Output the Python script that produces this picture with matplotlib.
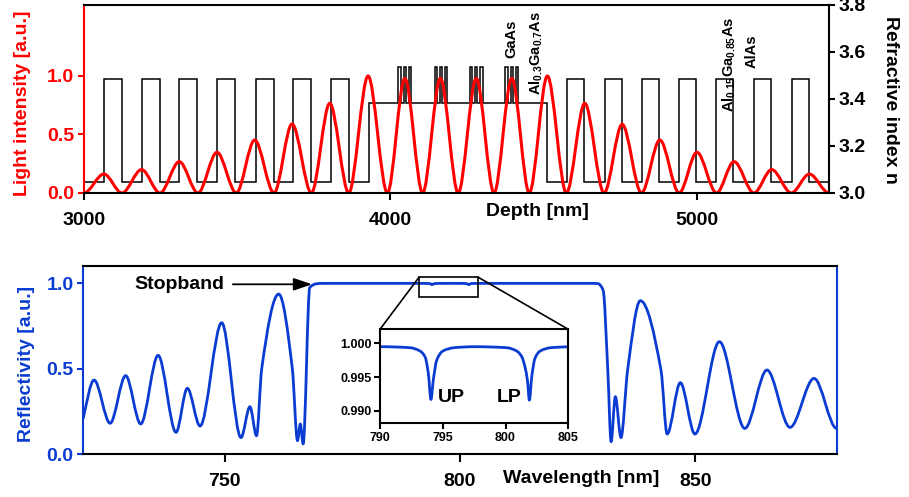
import numpy as np
import matplotlib
matplotlib.use("Agg")
import matplotlib.pyplot as plt
from matplotlib.path import Path
from matplotlib.patches import PathPatch, Rectangle, ConnectionPatch

plt.rcParams['font.family'] = ['Liberation Sans', 'DejaVu Sans']
plt.rcParams['font.weight'] = 'bold'
plt.rcParams['axes.labelweight'] = 'bold'
plt.rcParams['mathtext.fontset'] = 'custom'
plt.rcParams['mathtext.rm'] = 'Liberation Sans:bold'
plt.rcParams['mathtext.it'] = 'Liberation Sans:bold'
plt.rcParams['mathtext.bf'] = 'Liberation Sans:bold'

RED = '#ff0000'
BLUE = '#0a3cd2'

# ---- top panel: refractive index profile ----
n_alas = 3.048        # AlAs (low DBR layer)
n_al15 = 3.484        # Al0.15Ga0.85As (high DBR layer)
n_al30 = 3.382        # Al0.3Ga0.7As cavity
n_gaas = 3.535        # GaAs quantum wells
top_high_starts = [3065, 3188, 3311, 3435, 3560, 3683, 3806]
top_high_width = 59
bot_high_starts = [4576, 4699, 4821, 4942, 5063, 5186, 5309]
bot_high_width = 56
cavity_span = [3929, 4512]
qw_group_centers = [4047, 4165, 4280, 4396]
qw_width = 8
qw_barrier = 9
depth_range = [3000, 5431]

# ---- top panel: light intensity extrema (zeros and antinodes) ----
depth_ext = [3000, 3065, 3124, 3188, 3248, 3311, 3372, 3434, 3497, 3557,
             3620, 3679, 3742, 3802, 3864, 3927, 3990, 4047, 4105, 4163,
             4221, 4280, 4338, 4396, 4453, 4512, 4574, 4634, 4697, 4756,
             4819, 4879, 4942, 5000, 5064, 5121, 5186, 5244, 5308, 5367, 5431]
intens_ext = [0, 0.162, 0, 0.200, 0, 0.268, 0, 0.348, 0, 0.453,
              0, 0.590, 0, 0.767, 0, 1.000, 0, 0.980, 0, 0.980,
              0, 0.980, 0, 0.980, 0, 1.000, 0, 0.767, 0, 0.587,
              0, 0.453, 0, 0.348, 0, 0.268, 0, 0.200, 0, 0.162, 0]

# ---- bottom panel: reflectivity spectrum ----
wl_pts = [720.0, 722.3, 725.7, 729.0, 732.2, 735.9, 739.7, 742.1, 744.8, 749.4,
          753.5, 755.4, 756.8, 757.9, 761.5, 764.4, 765.5, 766.1, 766.7, 768.1,
          769.5, 771.0, 780.0, 790.0, 792.4, 793.2, 793.59, 793.85, 794.06, 794.25,
          794.52, 795.0, 795.9, 797.5, 800.1, 800.9, 801.3, 801.55, 801.74, 801.9,
          802.09, 802.35, 802.75, 803.6, 805.5, 815.0, 828.0, 829.3, 830.4, 831.4,
          832.1, 833.0, 834.2, 835.6, 838.3, 842.7, 844.0, 846.8, 849.9, 855.1,
          860.5, 865.2, 870.1, 875.2, 880.0]
refl_pts = [0.21, 0.433, 0.180, 0.459, 0.176, 0.578, 0.127, 0.385, 0.164, 0.769,
            0.096, 0.277, 0.107, 0.50, 0.937, 0.50, 0.078, 0.176, 0.059, 0.975,
            0.997, 0.9995, 0.9995, 0.9995, 0.99935, 0.99885, 0.9980, 0.9956, 0.9917, 0.9946,
            0.9975, 0.99885, 0.99935, 0.9995, 0.99935, 0.99885, 0.9980, 0.9965, 0.9946, 0.9916,
            0.9951, 0.9978, 0.99885, 0.99935, 0.9995, 0.9995, 0.9995, 0.998, 0.96, 0.49,
            0.072, 0.336, 0.096, 0.49, 0.898, 0.49, 0.117, 0.418, 0.117, 0.658,
            0.150, 0.492, 0.156, 0.443, 0.150]

zoom_box = [791.3, 803.9, 0.918, 1.035]


def smooth_path(x, y, m_start=0.0, m_end=0.0):
    # monotone cubic (Fritsch-Carlson) through the read points, drawn as Bezier
    x = np.asarray(x, float)
    y = np.asarray(y, float)
    h = np.diff(x)
    d = np.diff(y) / h
    m = np.zeros_like(x)
    for k in range(1, len(x) - 1):
        if d[k - 1] * d[k] > 0:
            w1 = 2 * h[k] + h[k - 1]
            w2 = h[k] + 2 * h[k - 1]
            m[k] = (w1 + w2) / (w1 / d[k - 1] + w2 / d[k])
    m[0] = m_start
    m[-1] = m_end
    verts = [(x[0], y[0])]
    codes = [Path.MOVETO]
    for k in range(len(x) - 1):
        verts += [(x[k] + h[k] / 3, y[k] + m[k] * h[k] / 3),
                  (x[k + 1] - h[k] / 3, y[k + 1] - m[k + 1] * h[k] / 3),
                  (x[k + 1], y[k + 1])]
        codes += [Path.CURVE4] * 3
    return Path(verts, codes)


# build the step profile
edges = [depth_range[0]]
values = []
for s in top_high_starts:
    values += [n_alas, n_al15]
    edges += [s, s + top_high_width]
values.append(n_alas)
edges.append(cavity_span[0])
for c in qw_group_centers:
    start = c - (3 * qw_width + 2 * qw_barrier) / 2
    values.append(n_al30)
    edges.append(start)
    for j in range(3):
        values.append(n_gaas)
        edges.append(start + j * (qw_width + qw_barrier) + qw_width)
        if j < 2:
            values.append(n_al30)
            edges.append(start + (j + 1) * (qw_width + qw_barrier))
values.append(n_al30)
edges.append(cavity_span[1])
for s in bot_high_starts:
    values += [n_alas, n_al15]
    edges += [s, s + bot_high_width]
values.append(n_alas)
edges.append(depth_range[1])

fig = plt.figure(figsize=(9.09, 4.97), dpi=100)

# ---------------- top panel ----------------
ax = fig.add_axes([0.0924, 0.6117, 0.8196, 0.3783])
ax2 = ax.twinx()
ax.set_zorder(ax2.get_zorder() + 1)
ax.patch.set_visible(False)

ax2.stairs(values, edges, baseline=None, color='k', lw=1.1)
ax.add_patch(PathPatch(smooth_path(depth_ext, intens_ext), fill=False,
                       edgecolor=RED, lw=2.2, capstyle='round', joinstyle='round'))

ax.set_xlim(depth_range)
ax.set_ylim(0, 1.607)
ax2.set_ylim(3.0, 3.8)
ax.set_xticks([3000, 4000, 5000])
ax.set_yticks([0.0, 0.5, 1.0])
ax.set_yticklabels(['0.0', '0.5', '1.0'])
ax2.set_yticks([3.0, 3.2, 3.4, 3.6, 3.8])
ax2.set_yticklabels(['3.0', '3.2', '3.4', '3.6', '3.8'])

for a in (ax, ax2):
    for sp in a.spines.values():
        sp.set_linewidth(1.5)
ax.spines['right'].set_visible(False)
ax2.spines['left'].set_visible(False)
ax2.spines['top'].set_visible(False)
ax2.spines['bottom'].set_visible(False)
ax.spines['left'].set_color(RED)

ax.tick_params(axis='x', direction='out', length=5, width=1.5, labelsize=14, pad=8.5)
ax.tick_params(axis='y', direction='out', length=4.5, width=1.5, labelsize=14, pad=2.5,
               colors=RED)
ax2.tick_params(axis='y', direction='out', length=4.5, width=1.5, labelsize=14, pad=2.5)

ax.set_xlabel('Depth [nm]', fontsize=14, va='center')
ax.xaxis.set_label_coords(0.608, -0.096)
ax.set_ylabel('Light intensity [a.u.]', fontsize=14, color=RED, va='center')
ax.yaxis.set_label_coords(-0.082, 0.476)
ax2.set_ylabel('Refractive index n', fontsize=14, rotation=270, va='center')
ax2.yaxis.set_label_coords(1.082, 0.495)

lab_kw = dict(rotation=90, ha='center', va='bottom', fontsize=10.5, fontweight='bold')
ax2.text(4395, 3.574, 'GaAs', **lab_kw)
ax2.text(4476, 3.417, r'Al$_{0.3}$Ga$_{0.7}$As', **lab_kw)
ax2.text(5105, 3.346, r'Al$_{0.15}$Ga$_{0.85}$As', **lab_kw)
ax2.text(5178, 3.531, 'AlAs', **lab_kw)

# ---------------- bottom panel ----------------
axb = fig.add_axes([0.0916, 0.0865, 0.8288, 0.3789])
axb.add_patch(PathPatch(smooth_path(wl_pts, refl_pts, m_start=0.12), fill=False,
                        edgecolor=BLUE, lw=2.0, capstyle='round', joinstyle='round'))
axb.set_xlim(720, 880)
axb.set_ylim(0, 1.103)
axb.set_xticks([750, 800, 850])
axb.set_yticks([0.0, 0.5, 1.0])
axb.set_yticklabels(['0.0', '0.5', '1.0'])
for sp in axb.spines.values():
    sp.set_linewidth(1.5)
axb.spines['left'].set_color(BLUE)
axb.spines['right'].set_color(BLUE)
axb.tick_params(axis='x', direction='out', length=5.5, width=1.5, labelsize=14, pad=8.5)
axb.tick_params(axis='y', direction='out', length=4.5, width=1.5, labelsize=14, pad=2.5,
                colors=BLUE)
axb.set_xlabel('Wavelength [nm]', fontsize=14, va='center')
axb.xaxis.set_label_coords(0.661, -0.1275)
axb.set_ylabel('Reflectivity [a.u.]', fontsize=14, color=BLUE, va='center')
axb.yaxis.set_label_coords(-0.0757, 0.478)

axb.annotate('Stopband', xy=(768.6, 0.994), xytext=(750.0, 0.994),
             ha='right', va='center', fontsize=14, fontweight='bold',
             arrowprops=dict(arrowstyle='-|>,head_length=0.8,head_width=0.27',
                             color='k', lw=1.3, shrinkA=4, shrinkB=0))

axb.add_patch(Rectangle((zoom_box[0], zoom_box[2]), zoom_box[1] - zoom_box[0],
                        zoom_box[3] - zoom_box[2], fill=False, edgecolor='k', lw=1.2,
                        zorder=5))

# ---------------- inset ----------------
axi = fig.add_axes([0.418, 0.1483, 0.2072, 0.1891])
axi.add_patch(PathPatch(smooth_path(wl_pts, refl_pts, m_start=0.12), fill=False,
                        edgecolor=BLUE, lw=2.0, capstyle='round', joinstyle='round'))
axi.set_xlim(790, 805)
axi.set_ylim(0.98818, 1.00207)
axi.set_xticks([790, 795, 800, 805])
axi.set_yticks([0.990, 0.995, 1.000])
axi.set_yticklabels(['0.990', '0.995', '1.000'])
for sp in axi.spines.values():
    sp.set_linewidth(1.5)
axi.tick_params(direction='out', length=4, width=1.5, labelsize=9, pad=2)
axi.text(794.65, 0.992, 'UP', ha='left', va='center', fontsize=14, fontweight='bold')
axi.text(799.3, 0.992, 'LP', ha='left', va='center', fontsize=14, fontweight='bold')

for xa, xb in ((zoom_box[0], 0), (zoom_box[1], 1)):
    con = ConnectionPatch(xyA=(xa, zoom_box[3]), coordsA=axb.transData,
                          xyB=(xb, 1), coordsB=axi.transAxes, color='k', lw=1.2)
    fig.add_artist(con)

fig.savefig('out.png', dpi=100)
